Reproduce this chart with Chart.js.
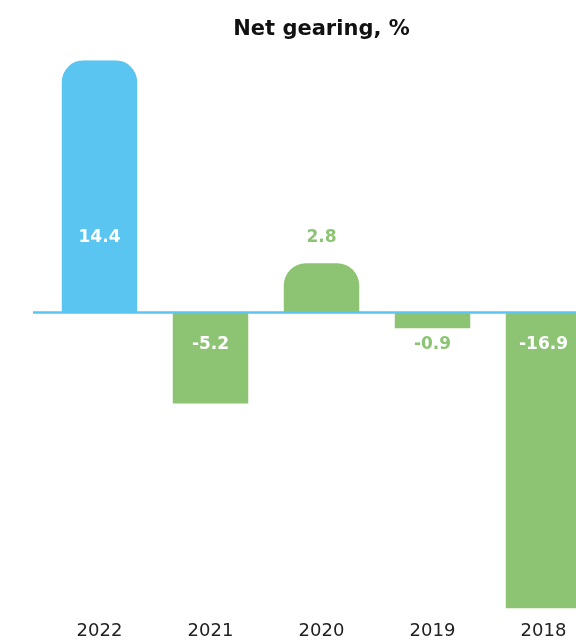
<!DOCTYPE html>
<html>
<head>
<meta charset="utf-8">
<script src="https://cdn.jsdelivr.net/npm/chart.js@4"></script>
<style>
  html, body { margin: 0; padding: 0; background: #fff; overflow: hidden; }
  #wrap { width: 650px; height: 640px; }
</style>
</head>
<body>
<div id="wrap"><canvas id="myChart" width="650" height="640"></canvas></div>
<script>
var years = ['2022', '2021', '2020', '2019', '2018'];
var gearing = [14.4, -5.2, 2.8, -0.9, -16.9];
var barColors = ['#5bc5f1', '#8cc474', '#8cc474', '#8cc474', '#8cc474'];

var blue = '#5bc5f1';
var fontName = '"DejaVu Sans", sans-serif';

// blue line at zero, starts a bit left of the plot
var zeroLine = {
    id: 'zeroLine',
    afterDatasetsDraw: function (chart) {
        var c = chart.ctx;
        var y = chart.scales.y.getPixelForValue(0);
        c.save();
        c.strokeStyle = blue;
        c.lineWidth = 2.5;
        c.beginPath();
        c.moveTo(33, y);
        c.lineTo(chart.width, y);
        c.stroke();
        c.restore();
    }
};

// value labels: fixed distance from zero, white when inside the bar
var valueLabels = {
    id: 'valueLabels',
    afterDatasetsDraw: function (chart) {
        var c = chart.ctx;
        var meta = chart.getDatasetMeta(0);
        var y0 = chart.scales.y.getPixelForValue(0);
        c.save();
        c.font = 'bold 17px ' + fontName;
        c.textAlign = 'center';
        c.textBaseline = 'middle';
        meta.data.forEach(function (bar, i) {
            var v = gearing[i];
            var ly = v >= 0 ? y0 - 75 : y0 + 32;
            var inside = v >= 0 ? bar.y < ly - 12 : bar.y > ly + 12;
            c.fillStyle = inside ? '#ffffff' : barColors[i];
            c.fillText(v.toFixed(1), bar.x, ly);
        });
        c.restore();
    }
};

var ctx = document.getElementById('myChart');
var myChart = new Chart(ctx, {
    type: 'bar',
    data: {
        labels: years,
        datasets: [{
            data: gearing,
            backgroundColor: barColors,
            borderWidth: 0,
            borderRadius: function (c) {
                return c.raw > 0 ? { topLeft: 22, topRight: 22, bottomLeft: 0, bottomRight: 0 } : 0;
            },
            borderSkipped: 'start',
            categoryPercentage: 1,
            barPercentage: 0.68
        }]
    },
    options: {
        responsive: false,
        animation: false,
        layout: { padding: { left: 44, right: 51, top: 0, bottom: -14 } },
        plugins: {
            legend: { display: false },
            tooltip: { enabled: false },
            title: {
                display: true,
                text: 'Net gearing, %',
                color: '#111',
                font: { family: fontName, size: 21, weight: 'bold' },
                padding: { top: 17, bottom: 18 }
            }
        },
        scales: {
            x: {
                grid: { display: false, drawTicks: false },
                border: { display: false },
                ticks: {
                    color: '#222',
                    padding: 12,
                    font: { family: fontName, size: 18 }
                }
            },
            y: {
                display: false,
                min: -16.9,
                max: 14.4
            }
        }
    },
    plugins: [zeroLine, valueLabels]
});
</script>
</body>
</html>
